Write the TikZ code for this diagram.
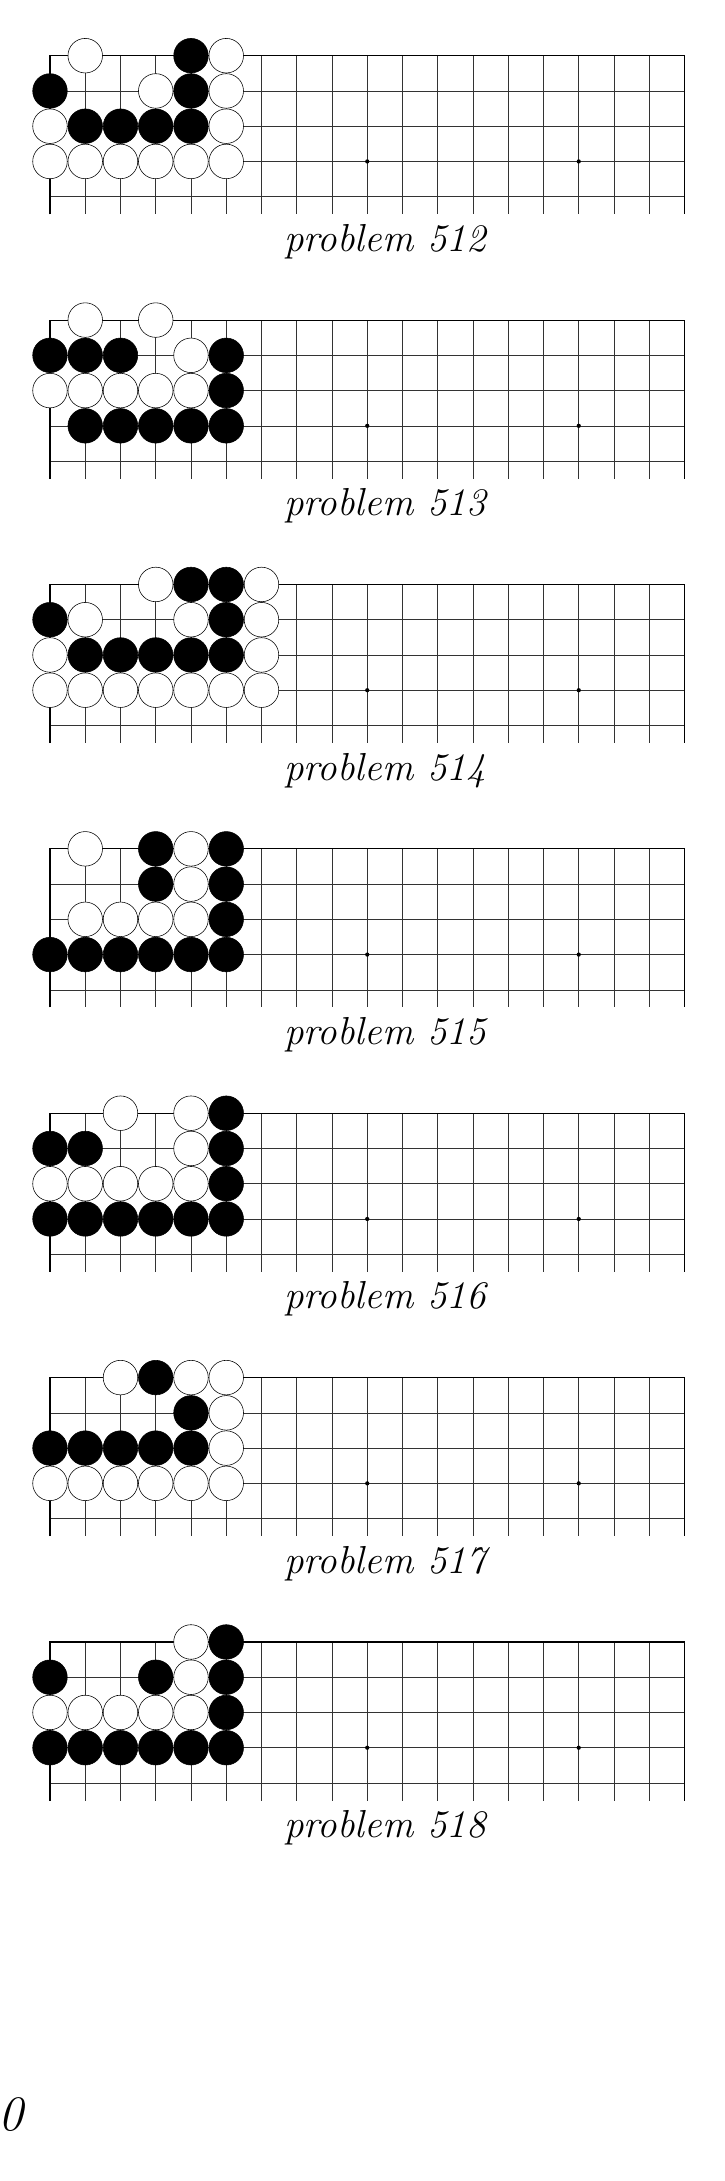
\documentclass[tikz,border=0pt]{standalone}
\usepackage{tikz}

\begin{document}
\begin{tikzpicture}[x=1cm,y=-1cm,
  gridline/.style={line width=.45pt,black!80},
  edgeline/.style={line width=.9pt,black},
  whitestone/.style={draw=black,fill=white,line width=.45pt},
  blackstone/.style={draw=black,fill=black,line width=.45pt},
  caption/.style={anchor=base,inner sep=0pt,font=\fontsize{31.5}{36}\selectfont\itshape}]
\useasboundingbox (0,0) rectangle (20.567,61.872);

% the seven empty boards with their captions
\foreach \b/\num in {0/512,1/513,2/514,3/515,4/516,5/517,6/518}{
\begin{scope}[shift={(1.418,1.58+7.5*\b)}]
\foreach \c in {1,...,17} \draw[gridline] (\c,0) -- (\c,4.5);
\foreach \r in {1,...,4} \draw[gridline] (0,\r) -- (18,\r);
\draw[edgeline] (0,4.5) -- (0,0) -- (18,0) -- (18,4.5);
\fill (9,3) circle (.06);
\fill (15,3) circle (.06);
\node[caption] (cap\num) at (9.5,5.55) {problem \num};
\end{scope}
}

% problem 512
\begin{scope}[shift={(1.418,1.58)}]
\foreach \c/\r in {1/0,5/0,3/1,5/1,0/2,5/2,0/3,1/3,2/3,3/3,4/3,5/3} \draw[whitestone] (\c,\r) circle (.49);
\foreach \c/\r in {4/0,0/1,4/1,1/2,2/2,3/2,4/2} \draw[blackstone] (\c,\r) circle (.49);
\end{scope}

% problem 513
\begin{scope}[shift={(1.418,1.58+7.5)}]
\foreach \c/\r in {1/0,3/0,4/1,0/2,1/2,2/2,3/2,4/2} \draw[whitestone] (\c,\r) circle (.49);
\foreach \c/\r in {0/1,1/1,2/1,5/1,5/2,1/3,2/3,3/3,4/3,5/3} \draw[blackstone] (\c,\r) circle (.49);
\end{scope}

% problem 514
\begin{scope}[shift={(1.418,1.58+15)}]
\foreach \c/\r in {3/0,6/0,1/1,4/1,6/1,0/2,6/2,0/3,1/3,2/3,3/3,4/3,5/3,6/3} \draw[whitestone] (\c,\r) circle (.49);
\foreach \c/\r in {4/0,5/0,0/1,5/1,1/2,2/2,3/2,4/2,5/2} \draw[blackstone] (\c,\r) circle (.49);
\end{scope}

% problem 515
\begin{scope}[shift={(1.418,1.58+22.5)}]
\foreach \c/\r in {1/0,4/0,4/1,1/2,2/2,3/2,4/2} \draw[whitestone] (\c,\r) circle (.49);
\foreach \c/\r in {3/0,5/0,3/1,5/1,5/2,0/3,1/3,2/3,3/3,4/3,5/3} \draw[blackstone] (\c,\r) circle (.49);
\end{scope}

% problem 516
\begin{scope}[shift={(1.418,1.58+30)}]
\foreach \c/\r in {2/0,4/0,4/1,0/2,1/2,2/2,3/2,4/2} \draw[whitestone] (\c,\r) circle (.49);
\foreach \c/\r in {5/0,0/1,1/1,5/1,5/2,0/3,1/3,2/3,3/3,4/3,5/3} \draw[blackstone] (\c,\r) circle (.49);
\end{scope}

% problem 517
\begin{scope}[shift={(1.418,1.58+37.5)}]
\foreach \c/\r in {2/0,4/0,5/0,5/1,5/2,0/3,1/3,2/3,3/3,4/3,5/3} \draw[whitestone] (\c,\r) circle (.49);
\foreach \c/\r in {3/0,4/1,0/2,1/2,2/2,3/2,4/2} \draw[blackstone] (\c,\r) circle (.49);
\end{scope}

% problem 518
\begin{scope}[shift={(1.418,1.58+45)}]
\foreach \c/\r in {4/0,4/1,0/2,1/2,2/2,3/2,4/2} \draw[whitestone] (\c,\r) circle (.49);
\foreach \c/\r in {5/0,0/1,3/1,5/1,5/2,0/3,1/3,2/3,3/3,4/3,5/3} \draw[blackstone] (\c,\r) circle (.49);
\end{scope}

% page number
\node[anchor=base west,inner sep=0pt,font=\fontsize{40}{48}\selectfont\itshape] (pagenum) at (-.05,60.45) {0};
\end{tikzpicture}
\end{document}
